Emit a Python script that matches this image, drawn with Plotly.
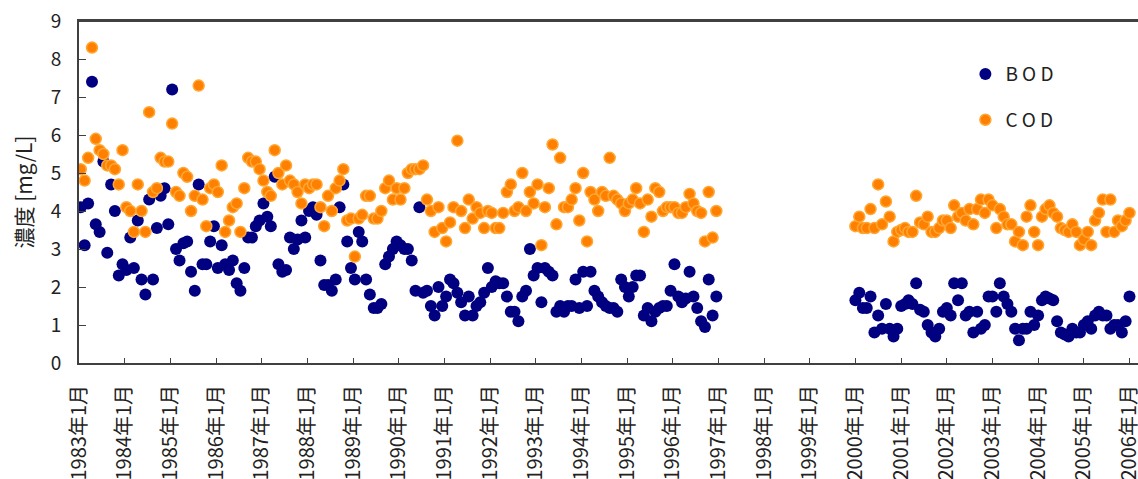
import pandas as pd
import plotly.graph_objects as go

# ---- data (mg/L) ----
bod_1983_1996 = [
    4.1, 3.1, 4.2, 7.4, 3.65, 3.45, 5.3, 2.9, 4.7, 4.0, 2.3, 2.6,
    2.45, 3.3, 2.5, 3.75, 2.2, 1.8, 4.3, 2.2, 3.55, 4.4, 4.6, 3.65,
    7.2, 3.0, 2.7, 3.15, 3.2, 2.4, 1.9, 4.7, 2.6, 2.6, 3.2, 3.6,
    2.5, 3.1, 2.6, 2.45, 2.7, 2.1, 1.9, 2.5, 3.3, 3.3, 3.6, 3.75,
    4.2, 3.85, 3.6, 4.9, 2.6, 2.4, 2.45, 3.3, 3.0, 3.25, 3.75, 3.3,
    4.0, 4.1, 3.9, 2.7, 2.05, 2.05, 1.9, 2.2, 4.1, 4.7, 3.2, 2.5,
    2.2, 3.45, 3.2, 2.2, 1.8, 1.45, 1.45, 1.55, 2.6, 2.8, 3.0, 3.2,
    3.1, 3.0, 3.0, 2.7, 1.9, 4.1, 1.85, 1.9, 1.5, 1.25, 2.0, 1.5,
    1.75, 2.2, 2.1, 1.85, 1.6, 1.25, 1.75, 1.25, 1.5, 1.6, 1.85, 2.5,
    2.0, 2.15, 2.1, 2.1, 1.75, 1.35, 1.35, 1.1, 1.75, 1.9, 3.0, 2.3,
    2.5, 1.6, 2.5, 2.4, 2.3, 1.35, 1.5, 1.35, 1.5, 1.5, 2.2, 1.45,
    2.4, 1.5, 2.4, 1.9, 1.75, 1.6, 1.5, 1.45, 1.45, 1.35, 2.2, 2.0,
    1.75, 2.0, 2.3, 2.3, 1.25, 1.45, 1.1, 1.35, 1.45, 1.5, 1.5, 1.9,
    2.6, 1.75, 1.6, 1.7, 2.4, 1.75, 1.45, 1.1, 0.95, 2.2, 1.25, 1.75,
]
cod_1983_1996 = [
    5.1, 4.8, 5.4, 8.3, 5.9, 5.6, 5.5, 5.2, 5.2, 5.1, 4.7, 5.6,
    4.1, 4.0, 3.45, 4.7, 4.0, 3.45, 6.6, 4.5, 4.6, 5.4, 5.3, 5.3,
    6.3, 4.5, 4.4, 5.0, 4.9, 4.0, 4.4, 7.3, 4.3, 3.6, 4.6, 4.7,
    4.5, 5.2, 3.45, 3.75, 4.1, 4.2, 3.45, 4.6, 5.4, 5.3, 5.3, 5.1,
    4.8, 4.5, 4.4, 5.6, 5.0, 4.7, 5.2, 4.8, 4.7, 4.5, 4.2, 4.7,
    4.6, 4.7, 4.7, 4.1, 3.6, 4.4, 4.0, 4.6, 4.8, 5.1, 3.75, 3.8,
    2.8, 3.8, 3.9, 4.4, 4.4, 3.8, 3.8, 4.0, 4.6, 4.8, 4.3, 4.6,
    4.3, 4.6, 5.0, 5.1, 5.1, 5.1, 5.2, 4.3, 4.0, 3.45, 4.1, 3.55,
    3.2, 3.7, 4.1, 5.85, 4.0, 3.55, 4.3, 3.8, 4.1, 3.95, 3.55, 4.0,
    3.95, 3.55, 3.55, 3.95, 4.5, 4.7, 4.0, 4.1, 5.0, 4.0, 4.5, 4.2,
    4.7, 3.1, 4.1, 4.6, 5.75, 3.65, 5.4, 4.1, 4.1, 4.3, 4.6, 3.75,
    5.0, 3.2, 4.5, 4.3, 4.0, 4.5, 4.4, 5.4, 4.4, 4.3, 4.2, 4.0,
    4.2, 4.3, 4.6, 4.2, 3.45, 4.3, 3.85, 4.6, 4.5, 4.0, 4.1, 4.1,
    4.1, 3.95, 3.95, 4.1, 4.45, 4.2, 4.0, 3.95, 3.2, 4.5, 3.3, 4.0,
]
bod_2000_2006 = [
    1.65, 1.85, 1.45, 1.45, 1.75, 0.8, 1.25, 0.9, 1.55, 0.9, 0.7, 0.9,
    1.5, 1.55, 1.65, 1.55, 2.1, 1.4, 1.35, 1.0, 0.8, 0.7, 0.9, 1.35,
    1.45, 1.25, 2.1, 1.65, 2.1, 1.25, 1.35, 0.8, 1.35, 0.9, 1.0, 1.75,
    1.75, 1.35, 2.1, 1.75, 1.55, 1.35, 0.9, 0.6, 0.9, 0.9, 1.35, 1.0,
    1.25, 1.65, 1.75, 1.7, 1.65, 1.1, 0.8, 0.75, 0.7, 0.9, 0.8, 0.8,
    1.0, 1.1, 0.9, 1.25, 1.35, 1.25, 1.25, 0.9, 1.0, 1.0, 0.8, 1.1,
    1.75,
]
cod_2000_2006 = [
    3.6, 3.85, 3.55, 3.55, 4.05, 3.55, 4.7, 3.65, 4.25, 3.85, 3.2, 3.45,
    3.5, 3.55, 3.45, 3.45, 4.4, 3.7, 3.65, 3.85, 3.45, 3.45, 3.55, 3.75,
    3.75, 3.55, 4.15, 3.85, 3.95, 3.75, 4.05, 3.65, 4.05, 4.3, 3.95, 4.3,
    4.15, 3.55, 4.05, 3.85, 3.65, 3.65, 3.2, 3.45, 3.1, 3.85, 4.15, 3.45,
    3.1, 3.85, 4.05, 4.15, 3.95, 3.85, 3.55, 3.5, 3.45, 3.65, 3.45, 3.1,
    3.25, 3.45, 3.1, 3.75, 3.95, 4.3, 3.45, 4.3, 3.45, 3.75, 3.6, 3.75,
    3.95,
]
tick_years = list(range(1983, 2007))
tick_labels = [f"{y}年1月" for y in tick_years]

# monthly sampling dates for the two measured periods
dates_1 = pd.date_range("1983-01-01", periods=len(bod_1983_1996), freq="MS") + pd.Timedelta(days=14)
dates_2 = pd.date_range("2000-01-01", periods=len(bod_2000_2006), freq="MS")
dates = list(dates_1) + list(dates_2)
bod = bod_1983_1996 + bod_2000_2006
cod = cod_1983_1996 + cod_2000_2006

FONT = "Noto Sans CJK JP"
AXIS_COLOR = "#404040"

fig = go.Figure()
fig.add_trace(go.Scatter(
    x=dates, y=bod, mode="markers", name="B O D", legendgroup="bod",
    marker=dict(size=12, color="#000080", line=dict(width=0)),
))
fig.add_trace(go.Scatter(
    x=dates, y=cod, mode="markers", name="C O D", legendgroup="cod",
    marker=dict(size=11, color="#FF8000", line=dict(width=1.5, color="#FFA733")),
))

# top frame line of the plot area
fig.add_shape(type="line", xref="paper", yref="paper", x0=0, x1=1, y0=1, y1=1,
              line=dict(color=AXIS_COLOR, width=2), layer="above")

fig.update_layout(
    width=1138, height=479,
    margin=dict(l=79, r=0, t=21, b=116, autoexpand=False),
    paper_bgcolor="white", plot_bgcolor="white",
    font=dict(family=FONT, size=19, color="#222222"),
    showlegend=True,
    legend=dict(
        x=0.837, y=0.90, xanchor="left", yanchor="top",
        traceorder="grouped", tracegroupgap=18,
        font=dict(family=FONT, size=19, color="#222222"),
        bgcolor="rgba(0,0,0,0)",
    ),
    xaxis=dict(
        type="date",
        range=["1983-01-01", "2006-03-10"],
        tickvals=[f"{y}-01-01" for y in tick_years],
        ticktext=tick_labels,
        tickangle=-90,
        ticks="inside", ticklen=5, tickwidth=1, tickcolor=AXIS_COLOR,
        showline=True, linecolor=AXIS_COLOR, linewidth=2, mirror=True,
        showgrid=False, zeroline=False, automargin=False,
        tickfont=dict(family=FONT, size=20, color="#222222"),
        ticklabelstandoff=12,
        ticklabeloverflow="allow",
    ),
    yaxis=dict(
        range=[0, 9], dtick=1,
        ticks="inside", ticklen=7, tickwidth=1, tickcolor=AXIS_COLOR,
        showline=True, linecolor=AXIS_COLOR, linewidth=2,
        showgrid=False, zeroline=False, automargin=False,
        tickfont=dict(family=FONT, size=19, color="#222222"),
        ticklabelstandoff=12,
        title=dict(text="濃度 [mg/L]", font=dict(family=FONT, size=21, color="#222222"), standoff=12),
    ),
)

fig.write_html(
    "out.html",
    config={"displayModeBar": False},
    post_script="document.body.style.margin='0';document.body.style.overflow='hidden';",
)
